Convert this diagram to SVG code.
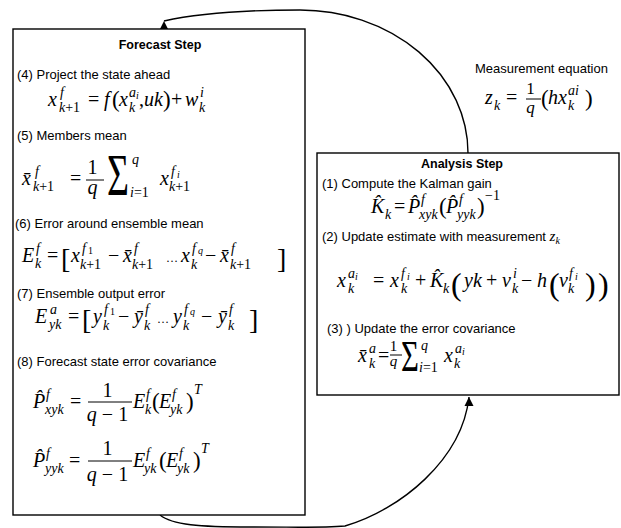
<svg xmlns="http://www.w3.org/2000/svg" width="621" height="528" viewBox="0 0 621 528">
<style>
.box{fill:#fff;stroke:#000;stroke-width:1.4}
.con{fill:none;stroke:#000;stroke-width:1.4}
.lbl{font-family:"Liberation Sans",Arial,sans-serif;font-size:13px;fill:#000}
.hd{font-family:"Liberation Sans",Arial,sans-serif;font-size:12.5px;font-weight:bold;text-anchor:middle;fill:#000}
.eq{font-family:"Liberation Serif","Times New Roman",serif;font-size:20px;fill:#000}
.sig{font-family:"Liberation Serif","Times New Roman",serif;fill:#000}
.i{font-style:italic}
.s{font-size:14px}
.ss{font-size:10px}
.mid{text-anchor:middle}
.br{font-size:28px}
.bp{font-size:32px}
.pm{font-size:23px}
.el{font-size:12px}
.fl{stroke:#000;stroke-width:1}
</style>
<defs>
<marker id="arr" markerUnits="userSpaceOnUse" markerWidth="10" markerHeight="10" refX="9" refY="5" orient="270">
<path d="M0,0.5 L9,5 L0,9.5 z" fill="#000"/>
</marker>
</defs>

<g id="connectors">
<path class="con" d="M468,153 A168,143 0 0 0 300,10 C240,10 195,14 164,21" marker-end="url(#arr)"/>
<path class="con" d="M160,515 C172,525 200,527 250,527 C300,527 320,528 345,526 C400,510 462,460 469,397" marker-end="url(#arr)"/>
</g>

<g id="forecast">
<rect class="box" x="13" y="29" width="292" height="486"/>
<text class="hd" x="160" y="49">Forecast Step</text>
<text class="lbl" x="17" y="79">(4) Project the state ahead</text>
<text class="eq">
<tspan class="i" x="48" y="106">x</tspan>
<tspan class="i s" x="60" y="97">f</tspan>
<tspan class="s" x="59" y="112"><tspan class="i">k</tspan>+1</tspan>
<tspan x="88" y="106">=</tspan>
<tspan class="i" x="104" y="106">f</tspan>
<tspan class="pm" x="112" y="107">(</tspan>
<tspan class="i" x="119" y="106">x</tspan>
<tspan class="i s" x="129" y="97">a</tspan><tspan class="i ss" x="136" y="99">i</tspan>
<tspan class="i s" x="129" y="112">k</tspan>
<tspan x="139" y="106">,</tspan>
<tspan class="i" x="144" y="106">uk</tspan>
<tspan class="pm" x="163" y="107">)</tspan>
<tspan x="171" y="106">+</tspan>
<tspan class="i" x="185" y="106">w</tspan>
<tspan class="i s" x="200" y="97">i</tspan>
<tspan class="i s" x="199" y="112">k</tspan>
</text>

<text class="lbl" x="17" y="140">(5) Members mean</text>
<text class="eq">
<tspan class="i" x="22" y="185">x̄</tspan>
<tspan class="i s" x="35" y="176">f</tspan>
<tspan class="s" x="33" y="191"><tspan class="i">k</tspan>+1</tspan>
<tspan x="70" y="185">=</tspan>
<tspan class="mid" x="95" y="174">1</tspan>
<tspan class="i mid" x="95" y="194">q</tspan>
<tspan class="i s" x="132" y="164">q</tspan>
<tspan class="s" x="130" y="197"><tspan class="i">i</tspan>=1</tspan>
<tspan class="i" x="160" y="185">x</tspan>
<tspan class="i s" x="171" y="176">f</tspan><tspan class="i ss" x="177" y="178">i</tspan>
<tspan class="s" x="169" y="191"><tspan class="i">k</tspan>+1</tspan>
</text>
<line class="fl" x1="86" y1="180" x2="104" y2="180"/>
<text class="sig" transform="translate(107,195) scale(0.63,1)" style="font-size:60px">Σ</text>

<text class="lbl" x="15" y="228">(6) Error around ensemble mean</text>
<text class="eq">
<tspan class="i" x="22" y="262">E</tspan>
<tspan class="i s" x="36" y="253">f</tspan>
<tspan class="i s" x="35" y="268">k</tspan>
<tspan x="47" y="262">=</tspan>
<tspan class="br" x="61" y="268">[</tspan>
<tspan class="i" x="71" y="262">x</tspan>
<tspan class="i s" x="82" y="253">f</tspan><tspan class="ss" x="88" y="254">1</tspan>
<tspan class="s" x="80" y="269"><tspan class="i">k</tspan>+1</tspan>
<tspan x="108" y="262">−</tspan>
<tspan class="i" x="123" y="262">x̄</tspan>
<tspan class="i s" x="134" y="253">f</tspan>
<tspan class="s" x="132" y="269"><tspan class="i">k</tspan>+1</tspan>
<tspan class="el" x="166" y="262">…</tspan>
<tspan class="i" x="181" y="262">x</tspan>
<tspan class="i s" x="192" y="253">f</tspan><tspan class="i ss" x="198" y="254">q</tspan>
<tspan class="i s" x="191" y="269">k</tspan>
<tspan x="205" y="262">−</tspan>
<tspan class="i" x="220" y="262">x̄</tspan>
<tspan class="i s" x="231" y="253">f</tspan>
<tspan class="s" x="230" y="269"><tspan class="i">k</tspan>+1</tspan>
<tspan class="br" x="277" y="268">]</tspan>
</text>

<text class="lbl" x="17" y="298">(7) Ensemble output error</text>
<text class="eq">
<tspan class="i" x="35" y="323">E</tspan>
<tspan class="i s" x="50" y="314">a</tspan>
<tspan class="i s" x="49" y="329">yk</tspan>
<tspan x="68" y="323">=</tspan>
<tspan class="br" x="82" y="329">[</tspan>
<tspan class="i" x="93" y="323">y</tspan>
<tspan class="i s" x="104" y="314">f</tspan><tspan class="ss" x="110" y="315">1</tspan>
<tspan class="i s" x="103" y="330">k</tspan>
<tspan x="118" y="323">−</tspan>
<tspan class="i" x="134" y="323">ȳ</tspan>
<tspan class="i s" x="145" y="314">f</tspan>
<tspan class="i s" x="144" y="330">k</tspan>
<tspan class="el" x="157" y="323">…</tspan>
<tspan class="i" x="173" y="323">y</tspan>
<tspan class="i s" x="184" y="314">f</tspan><tspan class="i ss" x="190" y="315">q</tspan>
<tspan class="i s" x="183" y="330">k</tspan>
<tspan x="201" y="323">−</tspan>
<tspan class="i" x="218" y="323">ȳ</tspan>
<tspan class="i s" x="229" y="314">f</tspan>
<tspan class="i s" x="228" y="330">k</tspan>
<tspan class="br" x="249" y="329">]</tspan>
</text>

<text class="lbl" x="17" y="366">(8) Forecast state error covariance</text>
<text class="eq">
<tspan class="i" x="33" y="408">P̂</tspan>
<tspan class="i s" x="46" y="399">f</tspan>
<tspan class="i s" x="45" y="414">xyk</tspan>
<tspan x="70" y="408">=</tspan>
<tspan class="mid" x="110" y="397">1</tspan>
<tspan class="mid" x="110" y="421"><tspan class="i">q</tspan> − 1</tspan>
<tspan class="i" x="133" y="408">E</tspan>
<tspan class="i s" x="146" y="399">f</tspan>
<tspan class="i s" x="145" y="414">k</tspan>
<tspan class="pm" x="152" y="409">(</tspan>
<tspan class="i" x="159" y="408">E</tspan>
<tspan class="i s" x="172" y="399">f</tspan>
<tspan class="i s" x="170" y="414">yk</tspan>
<tspan class="pm" x="186" y="409">)</tspan>
<tspan class="i s" x="194" y="394">T</tspan>
</text>
<line class="fl" x1="88" y1="402" x2="132" y2="402"/>

<text class="eq">
<tspan class="i" x="33" y="467">P̂</tspan>
<tspan class="i s" x="46" y="458">f</tspan>
<tspan class="i s" x="45" y="473">yyk</tspan>
<tspan x="69" y="467">=</tspan>
<tspan class="mid" x="110" y="455">1</tspan>
<tspan class="mid" x="110" y="481"><tspan class="i">q</tspan> − 1</tspan>
<tspan class="i" x="133" y="467">E</tspan>
<tspan class="i s" x="146" y="458">f</tspan>
<tspan class="i s" x="144" y="473">yk</tspan>
<tspan class="pm" x="159" y="468">(</tspan>
<tspan class="i" x="166" y="467">E</tspan>
<tspan class="i s" x="179" y="458">f</tspan>
<tspan class="i s" x="177" y="473">yk</tspan>
<tspan class="pm" x="193" y="468">)</tspan>
<tspan class="i s" x="201" y="453">T</tspan>
</text>
<line class="fl" x1="88" y1="461" x2="132" y2="461"/>
</g>

<g id="measurement">
<text class="lbl" x="475" y="73">Measurement equation</text>
<text class="eq">
<tspan class="i" x="485" y="104">z</tspan>
<tspan class="i s" x="494" y="110">k</tspan>
<tspan x="506" y="104">=</tspan>
<tspan class="mid" x="533" y="94" style="font-size:17px">1</tspan>
<tspan class="i mid" x="533" y="113" style="font-size:17px">q</tspan>
<tspan class="pm" x="541" y="106">(</tspan>
<tspan class="i" x="548" y="104">hx</tspan>
<tspan class="i s" x="568" y="95">ai</tspan>
<tspan class="i s" x="568" y="110">k</tspan>
<tspan class="pm" x="585" y="106">)</tspan>
</text>
<line class="fl" x1="526" y1="99" x2="541" y2="99"/>
</g>

<g id="analysis">
<rect class="box" x="317" y="153" width="302" height="242"/>
<text class="hd" x="462" y="168">Analysis Step</text>
<text class="lbl" x="322" y="188">(1) Compute the Kalman gain</text>
<text class="eq">
<tspan class="i" x="371" y="213">K̂</tspan>
<tspan class="i s" x="385" y="219">k</tspan>
<tspan x="394" y="213">=</tspan>
<tspan class="i" x="408" y="213">P̂</tspan>
<tspan class="i s" x="421" y="204">f</tspan>
<tspan class="i s" x="419" y="219">xyk</tspan>
<tspan class="pm" x="439" y="214">(</tspan>
<tspan class="i" x="446" y="213">P̂</tspan>
<tspan class="i s" x="459" y="204">f</tspan>
<tspan class="i s" x="457" y="219">yyk</tspan>
<tspan class="pm" x="477" y="214">)</tspan>
<tspan class="s" x="485" y="200">−1</tspan>
</text>

<text class="lbl" x="322" y="241">(2) Update estimate with measurement <tspan class="i" style="font-family:'Liberation Serif',serif;font-size:15px">z</tspan><tspan class="i" style="font-family:'Liberation Serif',serif;font-size:10px" dy="3">k</tspan></text>
<text class="eq">
<tspan class="i" x="337" y="287">x</tspan>
<tspan class="i s" x="348" y="278">a</tspan><tspan class="i ss" x="355" y="280">i</tspan>
<tspan class="i s" x="348" y="293">k</tspan>
<tspan x="373" y="287">=</tspan>
<tspan class="i" x="390" y="287">x</tspan>
<tspan class="i s" x="401" y="278">f</tspan><tspan class="i ss" x="407" y="280">i</tspan>
<tspan class="i s" x="401" y="293">k</tspan>
<tspan x="415" y="287">+</tspan>
<tspan class="i" x="430" y="287">K̂</tspan>
<tspan class="i s" x="443" y="293">k</tspan>
<tspan class="bp" x="451" y="295">(</tspan>
<tspan class="i" x="464" y="287">yk</tspan>
<tspan x="486" y="287">+</tspan>
<tspan class="i" x="502" y="287">v</tspan>
<tspan class="i s" x="513" y="278">i</tspan>
<tspan class="i s" x="512" y="293">k</tspan>
<tspan x="521" y="287">−</tspan>
<tspan class="i" x="537" y="287">h</tspan>
<tspan class="bp" x="549" y="295">(</tspan>
<tspan class="i" x="559" y="287">v</tspan>
<tspan class="i s" x="569" y="278">f</tspan><tspan class="i ss" x="575" y="280">i</tspan>
<tspan class="i s" x="568" y="293">k</tspan>
<tspan class="bp" x="585" y="295">)</tspan>
<tspan class="bp" x="598" y="295">)</tspan>
</text>

<text class="lbl" x="327" y="333">(3) ) Update the error covariance</text>
<text class="eq">
<tspan class="i" x="358" y="362">x̄</tspan>
<tspan class="i s" x="369" y="353">a</tspan>
<tspan class="i s" x="369" y="368">k</tspan>
<tspan x="378" y="362">=</tspan>
<tspan class="mid" x="396" y="351" style="font-size:15px">1</tspan>
<tspan class="i mid" x="396" y="366" style="font-size:15px">q</tspan>
<tspan class="i s" x="421" y="350">q</tspan>
<tspan class="s" x="419" y="372"><tspan class="i">i</tspan>=1</tspan>
<tspan class="i" x="444" y="362">x</tspan>
<tspan class="i s" x="455" y="353">a</tspan><tspan class="i ss" x="462" y="355">i</tspan>
<tspan class="i s" x="454" y="368">k</tspan>
</text>
<line class="fl" x1="390" y1="355" x2="402" y2="355"/>
<text class="sig" transform="translate(401,371) scale(0.7,1)" style="font-size:44px">Σ</text>
</g>
</svg>
